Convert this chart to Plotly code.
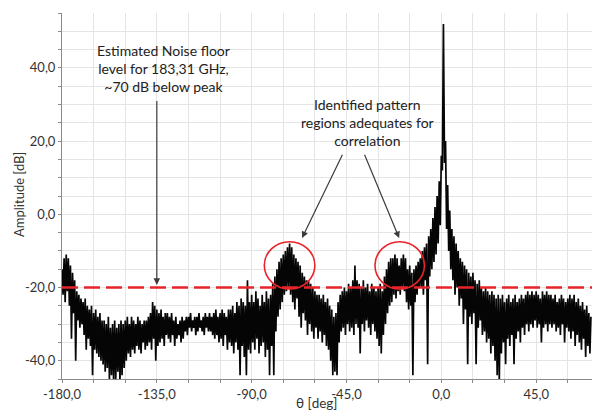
import numpy as np
import plotly.graph_objects as go

# x tick labels / y tick labels
x_ticks = [-180, -135, -90, -45, 0, 45]
x_tick_text = ["-180,0", "-135,0", "-90,0", "-45,0", "0,0", "45,0"]
y_ticks = [-40, -20, 0, 20, 40]
y_tick_text = ["-40,0", "-20,0", "0,0", "20,0", "40,0"]

# Angles of the read samples: local maxima at whole degrees, minima at half degrees
theta_hi = np.arange(-180, 72, 1.0)      # -180 .. 71
theta_lo = np.arange(-179.5, 71, 1.0)    # -179.5 .. 70.5

# Amplitude [dB] read at the upper edge of the noisy trace (one per degree)
amp_hi = [
    -15, -12, -11, -12, -14, -16, -18, -21, -22, -23,
    -24, -23, -25, -26, -25, -27, -26, -28, -27, -29,
    -29, -30, -28, -31, -30, -29, -31, -30, -29, -30,
    -29, -28, -30, -28, -29, -30, -28, -29, -30, -29,
    -29, -28, -27, -24, -25, -26, -27, -26, -28, -27,
    -27, -28, -27, -29, -28, -30, -29, -28, -29, -28,
    -28, -27, -29, -28, -28, -27, -29, -28, -27, -28,
    -27, -28, -27, -26, -28, -27, -26, -27, -28, -26,
    -26, -25, -27, -24, -25, -23, -24, -25, -18, -24,
    -22, -24, -21, -23, -25, -22, -24, -21, -23, -22,
    -19, -17, -15, -13, -12, -11, -10, -9, -8, -9,
    -11, -12, -13, -14, -16, -17, -18, -18, -19, -20,
    -21, -22, -22, -23, -22, -24, -23, -25, -26, -28,
    -27, -24, -22, -21, -20, -21, -19, -20, -18, -14,
    -18, -19, -20, -18, -20, -19, -21, -19, -20, -21,
    -20, -19, -21, -17, -15, -13, -12, -12, -11, -12,
    -14, -12, -11, -12, -15, -14, -16, -15, -14, -13,
    -12, -10, -9, -8, -6, -4, -1, 2, 5, 9,
    16, 52, 20, 8, 1, -4, -6, -8, -10, -12,
    -13, -14, -15, -16, -17, -16, -18, -19, -18, -20,
    -21, -20, -21, -22, -21, -22, -23, -22, -23, -22,
    -24, -23, -22, -24, -23, -22, -24, -23, -22, -23,
    -22, -21, -22, -21, -22, -21, -22, -23, -21, -22,
    -21, -22, -22, -23, -22, -24, -23, -22, -23, -24,
    -23, -22, -23, -22, -24, -23, -25, -24, -26, -25,
    -27, -28,
]

# Amplitude [dB] read at the lower edge of the noisy trace (between the maxima)
amp_lo = [
    -22, -24, -21, -25, -34, -27, -40, -29, -31, -30,
    -33, -37, -34, -36, -44, -37, -38, -39, -40, -41,
    -43, -42, -45, -44, -46, -45, -43, -46, -44, -42,
    -40, -38, -39, -37, -38, -36, -37, -38, -35, -37,
    -36, -35, -37, -34, -40, -36, -35, -34, -36, -33,
    -34, -35, -33, -36, -34, -33, -35, -34, -32, -33,
    -31, -32, -31, -33, -32, -31, -32, -33, -31, -32,
    -32, -33, -34, -33, -35, -34, -36, -33, -37, -35,
    -36, -38, -35, -37, -44, -36, -39, -44, -37, -38,
    -35, -37, -34, -38, -36, -35, -39, -37, -44, -36,
    -44, -32, -28, -26, -24, -22, -21, -20, -22, -24,
    -26, -23, -28, -31, -27, -29, -33, -30, -32, -34,
    -31, -34, -32, -35, -33, -36, -37, -40, -44, -43,
    -44, -35, -32, -31, -33, -30, -32, -31, -33, -30,
    -31, -38, -30, -32, -29, -31, -33, -30, -32, -34,
    -36, -38, -33, -30, -27, -25, -24, -22, -23, -21,
    -22, -20, -21, -24, -26, -25, -44, -24, -22, -20,
    -20, -22, -18, -41, -17, -15, -13, -11, -8, -3,
    12, 14, -4, -10, -15, -18, -22, -20, -25, -23,
    -30, -26, -41, -28, -30, -27, -41, -31, -29, -33,
    -32, -35, -34, -38, -36, -40, -44, -46, -38, -35,
    -41, -34, -36, -33, -41, -34, -32, -35, -31, -33,
    -30, -32, -30, -31, -29, -31, -30, -35, -31, -30,
    -32, -30, -31, -30, -32, -31, -33, -30, -35, -31,
    -32, -34, -32, -36, -33, -35, -37, -34, -39, -36,
    -38,
]

noise_floor = -20.0

# build the trace by alternating the read maxima and minima
xs, ys = [], []
for i in range(len(amp_hi)):
    xs.append(theta_hi[i]); ys.append(amp_hi[i])
    if i < len(amp_lo):
        xs.append(theta_lo[i]); ys.append(amp_lo[i])

FONT = "Lato, 'Open Sans', sans-serif"
GRID = "#e4e4e4"
AXIS = "#8a8a8a"
TXT = "#333333"

fig = go.Figure()
fig.add_trace(go.Scatter(x=xs, y=ys, mode="lines",
                         line=dict(color="#050505", width=1.7, simplify=False),
                         hoverinfo="skip", showlegend=False))

# noise floor dashed line
fig.add_shape(type="line", xref="paper", yref="y", x0=0, x1=1,
              y0=noise_floor, y1=noise_floor,
              line=dict(color="#e8242a", width=2.5, dash="16px,6px"))

# circles around the identified regions
fig.add_shape(type="circle", xref="x", yref="y", x0=-84, x1=-60, y0=-20.4, y1=-7.5,
              line=dict(color="#e8242a", width=1.6))
fig.add_shape(type="circle", xref="x", yref="y", x0=-31.5, x1=-8, y0=-20.4, y1=-7.5,
              line=dict(color="#e8242a", width=1.6))

# text annotations
fig.add_annotation(x=-132, y=39.8, xref="x", yref="y",
                   text="Estimated Noise floor<br>level for 183,31 GHz,<br>~70 dB below peak",
                   showarrow=False, font=dict(family=FONT, size=14, color="#222222"),
                   align="center")
fig.add_annotation(x=-35, y=25.2, xref="x", yref="y",
                   text="Identified pattern<br>regions adequates for<br>correlation",
                   showarrow=False, font=dict(family=FONT, size=14, color="#222222"),
                   align="center")

# arrows
arrow_style = dict(showarrow=True, arrowhead=2, arrowsize=1.1, arrowwidth=1.2,
                   arrowcolor="#3c3c3c", axref="x", ayref="y", xref="x", yref="y", text="")
fig.add_annotation(x=-135, y=-19.3, ax=-135, ay=31.4, **arrow_style)
fig.add_annotation(x=-66.1, y=-6.5, ax=-46.6, ay=16.7, **arrow_style)
fig.add_annotation(x=-20.0, y=-6.5, ax=-36.7, ay=16.7, **arrow_style)

# axis titles placed as annotations
fig.add_annotation(x=0.482, y=-0.066, xref="paper", yref="paper",
                   text="θ [deg]", showarrow=False, xanchor="center", yanchor="middle",
                   font=dict(family=FONT, size=13.5, color=TXT))
fig.add_annotation(x=-0.081, y=0.503, xref="paper", yref="paper",
                   text="Amplitude [dB]", showarrow=False, textangle=-90,
                   xanchor="center", yanchor="middle",
                   font=dict(family=FONT, size=13, color=TXT))

fig.update_layout(
    width=592, height=412,
    margin=dict(l=62, r=0, t=13, b=33, autoexpand=False),
    paper_bgcolor="white", plot_bgcolor="white",
    font=dict(family=FONT, size=13, color=TXT),
    showlegend=False,
)
fig.update_xaxes(
    range=[-180, 71.5], tickvals=x_ticks, ticktext=x_tick_text,
    showgrid=True, gridcolor=GRID, gridwidth=1,
    showline=True, linecolor=AXIS, linewidth=1,
    ticks="outside", ticklen=3, tickcolor=AXIS,
    tickfont=dict(family=FONT, size=13, color=TXT),
    minor=dict(dtick=15, tick0=-180, showgrid=True, gridcolor=GRID,
               ticks="outside", ticklen=3, tickcolor=AXIS),
    zeroline=False, automargin=False,
)
fig.update_yaxes(
    range=[-45, 55], tickvals=y_ticks, ticktext=y_tick_text,
    showgrid=True, gridcolor=GRID, gridwidth=1,
    showline=True, linecolor=AXIS, linewidth=1,
    ticks="outside", ticklen=3, tickcolor=AXIS,
    tickfont=dict(family=FONT, size=13, color=TXT),
    minor=dict(dtick=5, tick0=-45, showgrid=True, gridcolor=GRID,
               ticks="outside", ticklen=3, tickcolor=AXIS),
    zeroline=False, automargin=False,
)

fig.write_html("out.html", config={"displayModeBar": False},
               post_script="document.body.style.margin='0';document.body.style.overflow='hidden';")
